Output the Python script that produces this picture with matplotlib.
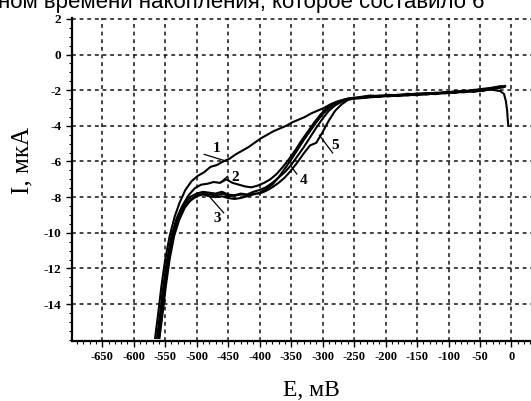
import matplotlib.pyplot as plt
from matplotlib.ticker import MultipleLocator

plt.rcParams['axes.unicode_minus'] = False

# shared plateau (E, mV)
plateau_e = [-240, -225, -210, -195, -180, -165, -150, -135, -120, -105, -90, -75, -60, -45, -30, -18]

# curve 1
e1 = [-566, -561, -556, -550, -543, -535, -527, -518, -508, -498, -488, -478, -468, -458, -448, -438,
      -428, -418, -408, -398, -388, -378, -368, -358, -348, -338, -328, -318, -308, -298, -288, -278,
      -268, -258, -248] + plateau_e + [-10]
i1 = [-15.9, -14.5, -13.0, -11.5, -10.2, -9.1, -8.3, -7.6, -7.1, -6.8, -6.6, -6.3, -6.2, -6.0, -5.85, -5.6,
      -5.4, -5.2, -4.95, -4.7, -4.5, -4.3, -4.15, -4.0, -3.8, -3.65, -3.5, -3.3, -3.15, -3.0, -2.8, -2.65,
      -2.55, -2.45, -2.42,
      -2.38, -2.30, -2.33, -2.26, -2.28, -2.20, -2.24, -2.16, -2.18, -2.10, -2.12, -2.02, -2.05, -1.92, -1.88, -1.80,
      -1.76]

# curve 2
e2 = [-563, -558, -553, -547, -540, -532, -523, -513, -503, -493, -483, -473, -463, -453, -443, -433,
      -423, -413, -403, -393, -383, -373, -363, -353, -343, -333, -323, -313, -303, -293, -283, -273,
      -263, -253] + plateau_e + [-12]
i2 = [-15.9, -14.5, -13.0, -11.5, -10.2, -9.2, -8.5, -7.9, -7.5, -7.3, -7.25, -7.15, -7.2, -7.0, -7.2, -7.3,
      -7.4, -7.45, -7.35, -7.2, -7.0, -6.7, -6.3, -5.85, -5.35, -4.8, -4.3, -3.8, -3.35, -3.0, -2.75, -2.6,
      -2.5, -2.45,
      -2.42, -2.36, -2.30, -2.32, -2.25, -2.27, -2.18, -2.21, -2.14, -2.15, -2.06, -2.08, -1.98, -1.96, -1.85, -1.78,
      -1.80]

# curve 3
e3 = [-560, -555, -550, -544, -537, -529, -520, -510, -500, -490, -480, -470, -460, -450, -440, -430,
      -420, -410, -400, -390, -380, -370, -360, -350, -340, -330, -320, -310, -300, -290, -280, -270,
      -260, -250] + plateau_e + [-14]
i3 = [-15.9, -14.5, -13.0, -11.5, -10.2, -9.2, -8.6, -8.2, -7.95, -7.85, -7.95, -8.0, -7.95, -8.05, -8.1, -8.05,
      -7.95, -7.85, -7.75, -7.55, -7.3, -6.9, -6.4, -5.9, -5.35, -4.8, -4.3, -3.8, -3.35, -3.0, -2.75, -2.6,
      -2.5, -2.46,
      -2.45, -2.40, -2.36, -2.30, -2.33, -2.26, -2.28, -2.20, -2.22, -2.12, -2.16, -2.05, -2.10, -2.00, -1.95, -1.86,
      -1.84]

# curve 4
e4 = [-561, -556, -551, -545, -538, -530, -521, -511, -500, -490, -480, -470, -460, -450, -440, -430,
      -420, -410, -400, -390, -380, -370, -360, -350, -340, -330, -320, -310, -300, -290, -280, -270,
      -260, -250] + plateau_e + [-11]
i4 = [-15.9, -14.5, -13.0, -11.5, -10.2, -9.2, -8.5, -8.0, -7.8, -7.7, -7.75, -7.8, -7.7, -7.85, -7.9, -7.8,
      -7.85, -7.7, -7.6, -7.45, -7.2, -6.9, -6.6, -6.2, -5.7, -5.2, -4.65, -4.1, -3.6, -3.15, -2.85, -2.65,
      -2.5, -2.45,
      -2.40, -2.34, -2.38, -2.28, -2.30, -2.24, -2.22, -2.25, -2.16, -2.18, -2.10, -2.12, -2.02, -2.04, -1.90, -1.84,
      -1.82]

# curve 5 (with the drop near 0 mV)
e5 = [-559, -554, -549, -543, -536, -528, -519, -509, -499, -489, -479, -469, -459, -449, -439, -429,
      -419, -409, -400, -390, -380, -370, -360, -350, -340, -330, -320, -310, -300, -290, -280, -270,
      -260, -250] + plateau_e + [-12, -9, -7, -6, -5]
i5 = [-15.9, -14.5, -13.0, -11.5, -10.2, -9.3, -8.6, -8.1, -7.9, -7.8, -7.85, -7.9, -7.8, -7.95, -7.9, -7.85,
      -7.9, -7.8, -7.8, -7.65, -7.45, -7.2, -6.9, -6.5, -6.05, -5.55, -5.1, -4.95, -4.35, -3.7, -3.15, -2.8,
      -2.55, -2.47,
      -2.44, -2.38, -2.32, -2.35, -2.27, -2.30, -2.22, -2.18, -2.20, -2.14, -2.08, -2.10, -2.00, -1.94, -1.98, -2.05,
      -2.2, -2.6, -3.1, -3.6, -4.0]

curves = [(e1, i1), (e2, i2), (e3, i3), (e4, i4), (e5, i5)]

# curve labels: text position, leader start, leader end
labels = ['1', '2', '3', '4', '5']
label_pos = [(-469, -5.26), (-439, -6.92), (-468, -9.19), (-331, -7.05), (-280, -5.09)]
leader_from = [(-488, -5.6), (-451, -6.83), (-457, -8.88), (-341, -6.7), (-284, -5.52)]
leader_to = [(-453, -5.98), (-463, -7.2), (-478, -8.04), (-350, -6.27), (-305, -4.53)]

fig = plt.figure(figsize=(5.31, 4.01), dpi=100)
ax = fig.add_axes([72 / 531, 60 / 401, 459 / 531, 323 / 401])

for e, i in curves:
    ax.plot(e, i, color='black', lw=1.5)

for lab, p, a, b in zip(labels, label_pos, leader_from, leader_to):
    ax.plot([a[0], b[0]], [a[1], b[1]], color='black', lw=0.9)
    ax.text(p[0], p[1], lab, fontsize=11, fontweight='bold', family='Liberation Serif',
            ha='center', va='center')

ax.set_xlim(-698, 31)
ax.set_ylim(-16.07, 2.05)

ax.set_xticks(range(-650, 1, 50))
ax.set_yticks(range(-14, 3, 2))
ax.xaxis.set_minor_locator(MultipleLocator(10))
ax.yaxis.set_minor_locator(MultipleLocator(0.5))
ax.grid(True, which='major', color='#111111', linestyle=(0, (2.5, 2.5)), lw=1.1)

for s in ['top', 'right']:
    ax.spines[s].set_visible(False)
for s in ['left', 'bottom']:
    ax.spines[s].set_linewidth(1.6)

ax.tick_params(which='major', length=4, width=1, direction='out')
ax.tick_params(which='minor', length=2, width=0.8, direction='out')
for t in ax.get_xticklabels():
    t.set_fontfamily('Liberation Serif')
    t.set_fontweight('bold')
    t.set_fontsize(9)
for t in ax.get_yticklabels():
    t.set_fontfamily('Liberation Serif')
    t.set_fontweight('bold')
    t.set_fontsize(9.5)

fig.text(311 / 531, 1 - 390 / 401, 'E, мВ', family='Liberation Serif', fontsize=17,
         ha='center', va='center')
fig.text(22 / 531, 1 - 160 / 401, 'I, мкА', family='Liberation Serif', fontsize=18,
         ha='center', va='center', rotation=90)
fig.text(-2 / 531, 1 - 8 / 401, 'ном времени накопления, которое составило 6',
         family='Liberation Sans', fontsize=16, ha='left', va='baseline')

fig.savefig('out.png', dpi=100)
